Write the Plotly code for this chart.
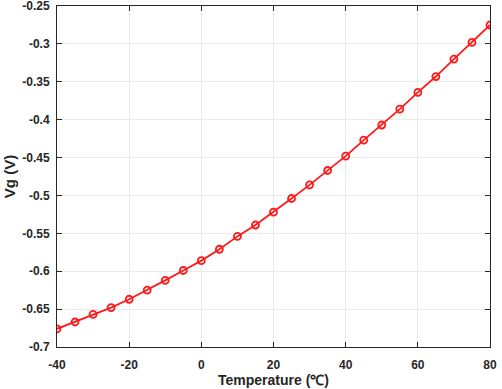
import plotly.graph_objects as go

temperature = [-40, -35, -30, -25, -20, -15, -10, -5, 0, 5, 10, 15, 20, 25, 30, 35, 40, 45, 50, 55, 60, 65, 70, 75, 80]
vg = [-0.676, -0.667, -0.657, -0.648, -0.637, -0.625, -0.612, -0.599, -0.586, -0.571, -0.554, -0.539,
      -0.522, -0.504, -0.486, -0.467, -0.448, -0.427, -0.407, -0.386, -0.364, -0.343, -0.320, -0.298, -0.275]

x_ticks = [-40, -20, 0, 20, 40, 60, 80]
y_ticks = [-0.7, -0.65, -0.6, -0.55, -0.5, -0.45, -0.4, -0.35, -0.3, -0.25]
y_labels = ["-0.7", "-0.65", "-0.6", "-0.55", "-0.5", "-0.45", "-0.4", "-0.35", "-0.3", "-0.25"]
x_title = "Temperature (℃)"
y_title = "Vg (V)"

fig = go.Figure()
fig.add_trace(go.Scatter(
    x=temperature, y=vg, mode="lines+markers",
    line=dict(color="#ff1a1a", width=1.8),
    marker=dict(symbol="circle-open", size=7, color="#ff1a1a", line=dict(width=1.8)),
    showlegend=False,
))

axis_font = dict(family="Liberation Sans, Arial", size=12, color="#262626")
fig.update_layout(
    width=502, height=389,
    margin=dict(l=57, r=12, t=6, b=42, autoexpand=False),
    paper_bgcolor="white", plot_bgcolor="white",
    font=axis_font,
)
fig.update_xaxes(
    range=[-40, 80.0001], tickvals=x_ticks, ticktext=[f"<b>{v}</b>" for v in x_ticks],
    showgrid=True, gridcolor="#ebebeb", gridwidth=1, zeroline=False,
    showline=True, linecolor="#262626", linewidth=1, mirror="ticks",
    ticks="inside", ticklen=5, tickcolor="#262626", ticklabelstandoff=7,
    automargin=False, ticklabeloverflow="allow",
)
fig.update_yaxes(
    range=[-0.7, -0.2499], tickvals=y_ticks, ticktext=[f"<b>{t}</b>" for t in y_labels],
    showgrid=True, gridcolor="#ebebeb", gridwidth=1, zeroline=False,
    showline=True, linecolor="#262626", linewidth=1, mirror="ticks",
    ticks="inside", ticklen=5, tickcolor="#262626", ticklabelstandoff=4,
    automargin=False, ticklabeloverflow="allow",
    title=dict(text=f"<b>{y_title}</b>", font=dict(size=15, color="#262626"), standoff=2),
)
fig.add_annotation(
    text=f"<b>{x_title}</b>", xref="paper", yref="paper", x=0.5, y=0,
    xanchor="center", yanchor="top", yshift=-23, showarrow=False,
    font=dict(size=14, color="#262626"),
)
fig.write_html("out.html")
